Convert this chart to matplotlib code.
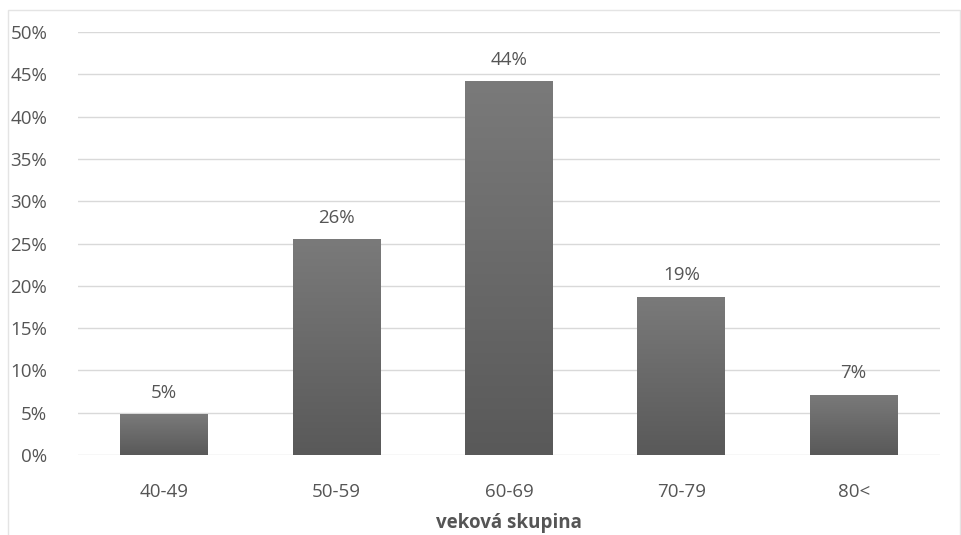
import matplotlib
matplotlib.use("Agg")
import matplotlib.pyplot as plt
import numpy as np
from matplotlib.patches import Rectangle
from matplotlib.colors import LinearSegmentedColormap

categories = ["40-49", "50-59", "60-69", "70-79", "80<"]
values = [4.8, 25.5, 44.2, 18.7, 7.1]
labels = ["5%", "26%", "44%", "19%", "7%"]
yticks = [0, 5, 10, 15, 20, 25, 30, 35, 40, 45, 50]
xlabel = "veková skupina"

plt.rcParams['font.family'] = ['Open Sans', 'DejaVu Sans']
txt = "#555555"
fs = 13.5

fig = plt.figure(figsize=(9.62, 5.35), dpi=100)
fig.patch.set_facecolor("white")
fig.add_artist(Rectangle((0.008, -0.01), 0.99, 0.992, transform=fig.transFigure,
                         fill=False, edgecolor="#e4e4e4", linewidth=1.0))
ax = fig.add_axes([0.081, 0.1495, 0.896, 0.7905])
ax.set_facecolor("none")
x = np.arange(len(categories))
bars = ax.bar(x, values, width=0.51, color="#666666", zorder=2)
grad = np.linspace(0, 1, 256).reshape(-1, 1)
cmap = LinearSegmentedColormap.from_list("g", ["#595959", "#7a7a7a"])
for b in bars:
    x0, w, h = b.get_x(), b.get_width(), b.get_height()
    im = ax.imshow(grad, extent=[x0, x0 + w, 0, h], origin="lower", aspect="auto",
                   cmap=cmap, zorder=3)
    im.set_clip_path(b)
    b.set_facecolor("none")
for xi, v, lab in zip(x, values, labels):
    ax.annotate(lab, (xi, v), xytext=(0, 9), textcoords="offset points",
                ha="center", va="bottom", fontsize=fs, color=txt)
ax.set_xlim(-0.5, 4.5)
ax.set_ylim(0, 50)
ax.set_yticks(yticks)
ax.set_yticklabels([f"{t}%" for t in yticks])
ax.set_xticks(x)
ax.set_xticklabels(categories)
ax.tick_params(axis="both", length=0, labelsize=fs, labelcolor=txt)
ax.tick_params(axis="y", pad=22)
ax.tick_params(axis="x", pad=20)
ax.grid(axis="y", color="#d9d9d9", linewidth=1.0, zorder=0)
for s in ax.spines.values():
    s.set_visible(False)
ax.set_xlabel(xlabel, fontsize=fs, fontweight="bold", color=txt, labelpad=9)
fig.savefig("out.png", dpi=100)
